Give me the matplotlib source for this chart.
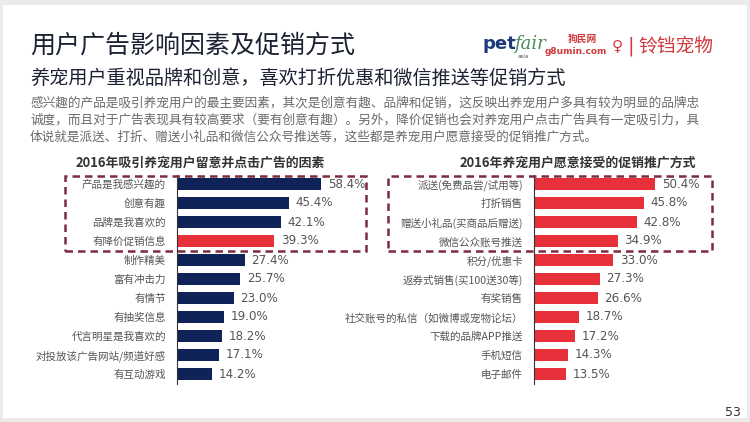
import matplotlib
matplotlib.use("Agg")
import matplotlib.pyplot as plt
from matplotlib.patches import Rectangle

plt.rcParams['font.family'] = ['Noto Sans CJK SC', 'DejaVu Sans']

# ---- data ----
left_title = "2016年吸引养宠用户留意并点击广告的因素"
left_cats = ["产品是我感兴趣的", "创意有趣", "品牌是我喜欢的", "有降价促销信息", "制作精美",
             "富有冲击力", "有情节", "有抽奖信息", "代言明星是我喜欢的",
             "对投放该广告网站/频道好感", "有互动游戏"]
left_vals = [58.4, 45.4, 42.1, 39.3, 27.4, 25.7, 23.0, 19.0, 18.2, 17.1, 14.2]
left_highlight = [3]

right_title = "2016年养宠用户愿意接受的促销推广方式"
right_cats = ["派送(免费品尝/试用等)", "打折销售", "赠送小礼品(买商品后赠送)", "微信公众账号推送",
              "积分/优惠卡", "返券式销售(买100送30等)", "有奖销售",
              "社交账号的私信（如微博或宠物论坛）", "下载的品牌APP推送", "手机短信", "电子邮件"]
right_vals = [50.4, 45.8, 42.8, 34.9, 33.0, 27.3, 26.6, 18.7, 17.2, 14.3, 13.5]

title = "用户广告影响因素及促销方式"
subtitle = "养宠用户重视品牌和创意，喜欢打折优惠和微信推送等促销方式"
body = ["感兴趣的产品是吸引养宠用户的最主要因素，其次是创意有趣、品牌和促销，这反映出养宠用户多具有较为明显的品牌忠",
        "诚度，而且对于广告表现具有较高要求（要有创意有趣）。另外，降价促销也会对养宠用户点击广告具有一定吸引力，具",
        "体说就是派送、打折、赠送小礼品和微信公众号推送等，这些都是养宠用户愿意接受的促销推广方式。"]
page_no = "53"

NAVY = "#0f2359"
RED = "#e8303a"
BOX = "#7d2b3f"

W, H = 750, 422
fig = plt.figure(figsize=(W / 100, H / 100), dpi=100)
fig.patch.set_facecolor("#ebebeb")


def fx(px):
    return px / W


def fy(py):
    return 1 - py / H


# white slide
fig.patches.append(Rectangle((fx(3), fy(418)), fx(744), (413) / H, transform=fig.transFigure,
                             facecolor="white", edgecolor="none", zorder=-10))

fig.text(fx(30), fy(46), title, fontsize=18, color="#1c2233", va="center", ha="left")
fig.text(fx(30), fy(78), subtitle, fontsize=13.8, color="#1c2233", va="center", ha="left")
for i, line in enumerate(body):
    fig.text(fx(30), fy(103 + 17 * i), line, fontsize=9.1, color="#6a6a6a", va="center", ha="left")

# logos
fig.text(fx(483), fy(44), "pet", fontsize=13, color="#1c3a7a", fontweight="bold",
         va="center", ha="left", family="DejaVu Sans")
fig.text(fx(514), fy(44), "fair", fontsize=13, color="#4a8a5a", fontstyle="italic",
         va="center", ha="left", family="DejaVu Serif")
fig.text(fx(518), fy(57), "asia", fontsize=4, color="#555555", va="center", ha="left",
         family="DejaVu Sans")
fig.text(fx(582), fy(39), "狗民网", fontsize=7, color="#d0393e", fontweight="bold", va="center", ha="center")
fig.text(fx(576), fy(52), "g8umin.com", fontsize=6.5, color="#d0393e", fontweight="bold",
         va="center", ha="center", family="DejaVu Sans")
fig.text(fx(617), fy(46), "♀", fontsize=11, color="#d0393e", va="center", ha="center",
         family="DejaVu Sans")
fig.text(fx(631), fy(46), "|", fontsize=14, color="#d0393e", va="center", ha="center",
         family="DejaVu Sans")
fig.text(fx(638), fy(46), "铃铛宠物", fontsize=13.5, color="#d0393e", va="center", ha="left")

fig.text(fx(741), fy(412), page_no, fontsize=9, color="#333333", va="center", ha="right",
         family="DejaVu Sans")


def draw_chart(x0, pxper, cats, vals, colors, ttl, tx):
    top, bot = 174.5, 383.5
    width_pct = 70
    ax = fig.add_axes([fx(x0), fy(bot), pxper * width_pct / W, (bot - top) / H])
    ax.set_facecolor("none")
    y = list(range(len(cats)))
    ax.barh(y, vals, height=0.6, color=colors, zorder=2)
    ax.set_xlim(0, width_pct)
    ax.set_ylim(len(cats) - 0.5, -0.5)
    for s in ["top", "right", "bottom"]:
        ax.spines[s].set_visible(False)
    ax.spines["left"].set_color("#333333")
    ax.spines["left"].set_linewidth(0.8)
    ax.set_xticks([])
    ax.set_yticks(y)
    ax.set_yticklabels(cats, fontsize=7.6, color="#555555")
    ax.tick_params(axis="y", length=0, pad=8)
    for yi, v in zip(y, vals):
        ax.text(v + 2.8, yi, f"{v:.1f}%", fontsize=8.6, color="#555555", va="center", ha="left",
                family="DejaVu Sans")
    fig.text(fx(tx), fy(163), ttl, fontsize=9.3, fontweight="bold", color="#333333",
             va="center", ha="center")


left_colors = [RED if i in left_highlight else NAVY for i in range(len(left_vals))]
draw_chart(177, 2.466, left_cats, left_vals, left_colors, left_title, 200)
draw_chart(534, 2.40, right_cats, right_vals, [RED] * len(right_vals), right_title, 578)

# dashed highlight boxes
for (x1, x2) in [(65, 366), (388, 712)]:
    fig.patches.append(Rectangle((fx(x1), fy(251)), fx(x2 - x1), (251 - 176) / H,
                                 transform=fig.transFigure, fill=False, edgecolor=BOX,
                                 linestyle=(0, (3, 2)), linewidth=1.8, zorder=5))

fig.savefig("out.png", dpi=100, facecolor=fig.get_facecolor())
